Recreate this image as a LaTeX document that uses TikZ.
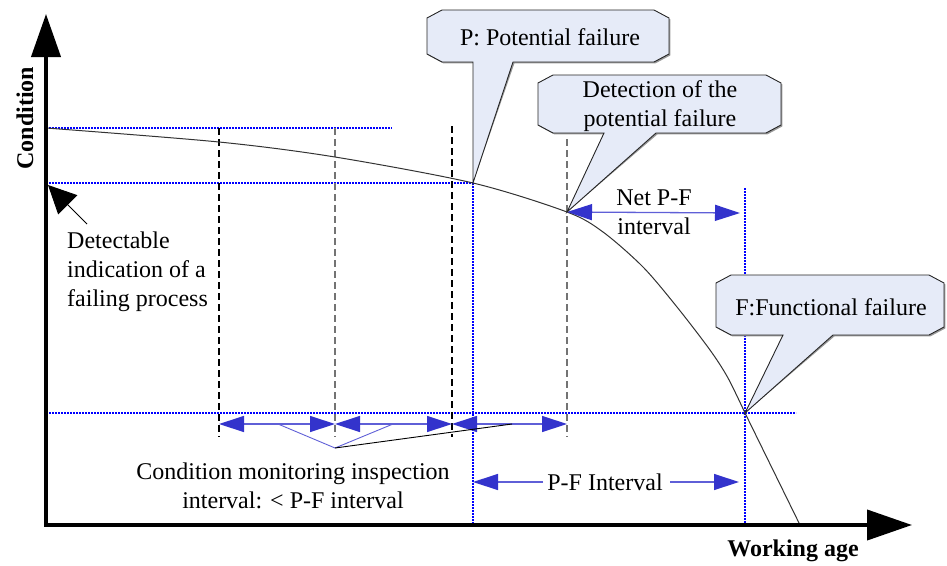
\documentclass[tikz,border=0pt]{standalone}
\usepackage{fontspec}
\setmainfont{Liberation Serif}
\usetikzlibrary{arrows.meta}

\definecolor{tipblue}{RGB}{51,51,204}
\definecolor{shaftblue}{RGB}{95,95,215}
\definecolor{guideblue}{RGB}{0,0,255}
\definecolor{calloutfill}{RGB}{230,235,248}
\definecolor{dashgray}{RGB}{115,115,115}

\tikzset{
  bluetip/.tip={Triangle[length=25pt,width=16pt,color=tipblue]},
  txt/.style={font=\fontsize{24}{29}\selectfont, inner sep=0pt},
  axislabel/.style={font=\fontsize{24}{29}\selectfont\bfseries, inner sep=0pt},
  axisline/.style={line width=4pt, line join=miter,
    {Triangle[length=43pt,width=29pt]}-{Triangle[length=45pt,width=30pt]}},
  guide/.style={guideblue, dash pattern=on 1.6pt off 1.4pt, line width=1.1pt},
  inspdash/.style={dash pattern=on 7pt off 4pt, line width=1.2pt},
  curveline/.style={black!80, line width=1pt},
  span/.style={shaftblue, line width=1.3pt, bluetip-bluetip},
  halfspan/.style={shaftblue, line width=1.3pt, -bluetip},
  leader/.style={line width=0.9pt},
  callout/.style={draw=black!85, fill=calloutfill, line width=0.9pt, line join=miter},
  calloutshadow/.style={fill=black!40, draw=none, shift={(1.4,1.4)}},
}

\begin{document}
\begin{tikzpicture}[x=1pt, y=-1pt]
  \useasboundingbox (0,0) rectangle (947,565);

  % key points on the condition curve
  \coordinate (top) at (46,128);
  \coordinate (P) at (473,183);
  \coordinate (D) at (567,212);
  \coordinate (F) at (745,413);
  \coordinate (end) at (800,525);

  % blue dotted guide lines
  \draw[guide] (top) -- (392,128);
  \draw[guide] (46,183) -- (P);
  \draw[guide] (46,413) -- (796,413);
  \draw[guide] (P) -- (473,525);
  \draw[guide] (745,188) -- (745,525);

  % inspection instants
  \draw[inspdash] (219,128) -- (219,437);
  \draw[inspdash, dashgray] (335,128) -- (335,437);
  \draw[inspdash] (452,126) -- (452,437);
  \draw[inspdash, dashgray] (567,139) -- (567,437);

  % condition curve
  \draw[curveline] plot[smooth, tension=0.5] coordinates
    {(46,128) (219,142) (335,157) (473,183) (567,212) (603,232)
     (643,267) (677,307) (710,350) (728,378) (745,413)} -- (end);

  % axes
  \draw[axisline] (46,14) -- (46,525) -- (912,525);
  \node[axislabel, rotate=90] (ylab) at (25,118) {Condition};
  \node[axislabel] (xlab) at (793,551) {Working age};

  % detectable indication
  \node[txt, align=left, anchor=west] (detect) at (67,272)
    {Detectable\\indication of a\\failing process};
  \coordinate (detecttail) at (87,224);
  \coordinate (detecttip) at (48,185);
  \draw[line width=0.9pt, -{Triangle[length=28pt,width=27pt]}] (detecttail) -- (detecttip);

  % inspection interval spans
  \coordinate (i1) at (219,424);
  \coordinate (i2) at (335,424);
  \coordinate (i3) at (452,424);
  \coordinate (i4) at (567,424);
  \draw[span] (i1) -- (i2);
  \draw[span] (i2) -- (i3);
  \draw[span] (i3) -- (i4);

  \node[txt, align=center] (insp) at (293,486)
    {Condition monitoring inspection\\interval: {<} P-F interval};
  \coordinate (hub) at (335,448);
  \draw[leader, shaftblue] (278,424) -- (hub) -- (393,424);
  \draw[leader] (hub) -- (512,424);

  % P-F interval
  \node[txt] (pf) at (605,482) {P-F Interval};
  \draw[halfspan] (543,482) -- (473,482);
  \draw[halfspan] (670,482) -- (739,482);

  % net P-F interval
  \node[txt, align=center] (netpf) at (654,212) {Net P-F\\interval};
  \draw[span] (D) -- (740,213);

  % callouts
  \begin{scope}
    \path[calloutshadow] (442,10) -- (654,10) -- (669,18) -- (669,54) -- (654,62)
      -- (513,62) -- (P) -- (473,62) -- (442,62) -- (427,54) -- (427,18) -- cycle;
    \path[callout] (442,10) -- (654,10) -- (669,18) -- (669,54) -- (654,62)
      -- (513,62) -- (P) -- (473,62) -- (442,62) -- (427,54) -- (427,18) -- cycle;
    \node[txt] (ptext) at (550,37) {P: Potential failure};

    \path[calloutshadow] (553,75) -- (766,75) -- (781,83) -- (781,125) -- (766,133)
      -- (656,133) -- (D) -- (604,133) -- (553,133) -- (538,125) -- (538,83) -- cycle;
    \path[callout] (553,75) -- (766,75) -- (781,83) -- (781,125) -- (766,133)
      -- (656,133) -- (D) -- (604,133) -- (553,133) -- (538,125) -- (538,83) -- cycle;
    \node[txt, align=center] (dtext) at (660,106) {Detection of the\\potential failure};

    \path[calloutshadow] (731,275) -- (929,275) -- (944,283) -- (944,327) -- (929,335)
      -- (833,335) -- (F) -- (783,335) -- (731,335) -- (716,327) -- (716,283) -- cycle;
    \path[callout] (731,275) -- (929,275) -- (944,283) -- (944,327) -- (929,335)
      -- (833,335) -- (F) -- (783,335) -- (731,335) -- (716,327) -- (716,283) -- cycle;
    \node[txt] (ftext) at (831,307) {F:Functional failure};
  \end{scope}
\end{tikzpicture}
\end{document}
